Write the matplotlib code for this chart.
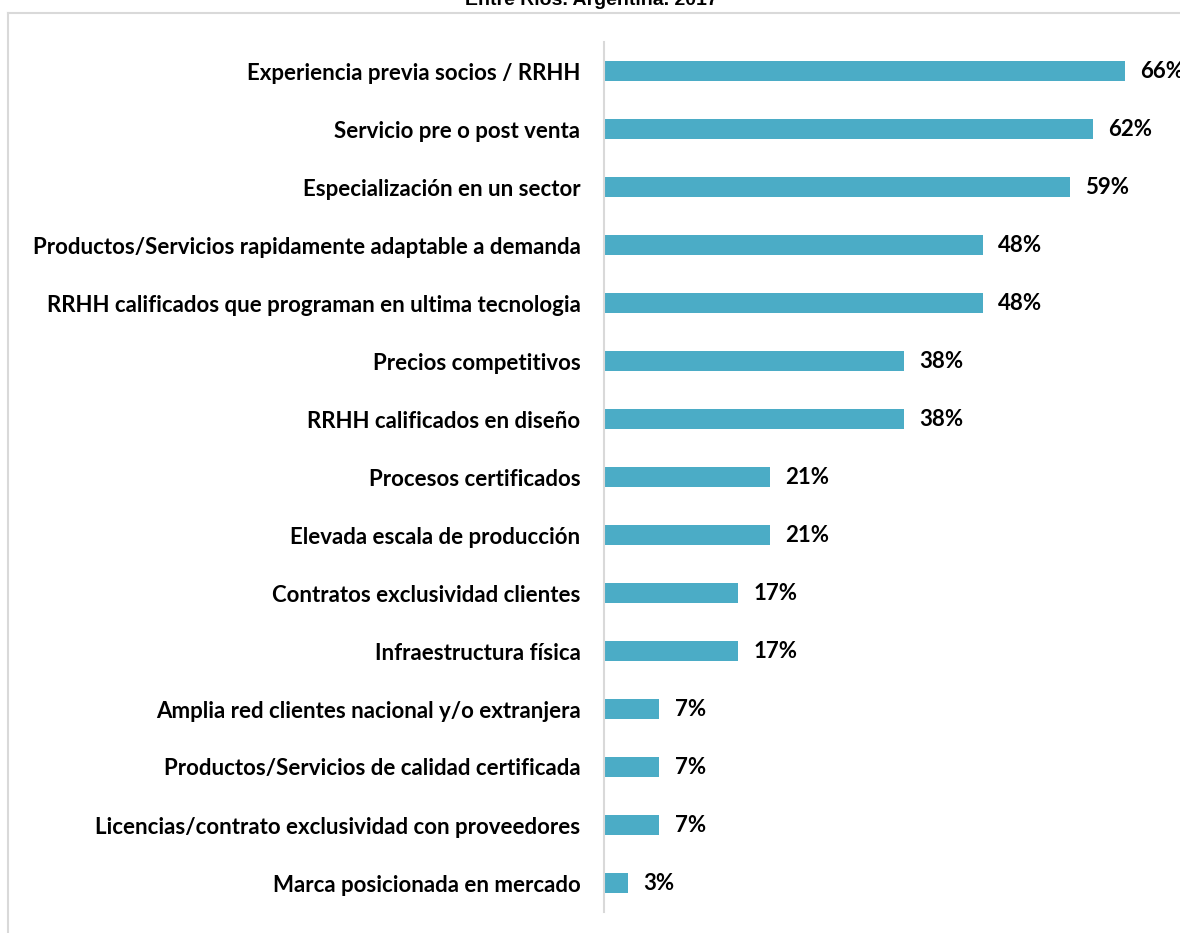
import matplotlib.pyplot as plt
from matplotlib.lines import Line2D

TITLE = "Entre Ríos. Argentina. 2017"

categories = [
    "Experiencia previa socios / RRHH",
    "Servicio pre o post venta",
    "Especialización en un sector",
    "Productos/Servicios rapidamente adaptable a demanda",
    "RRHH calificados que programan en ultima tecnologia",
    "Precios competitivos",
    "RRHH calificados en diseño",
    "Procesos certificados",
    "Elevada escala de producción",
    "Contratos exclusividad clientes",
    "Infraestructura física",
    "Amplia red clientes nacional y/o extranjera",
    "Productos/Servicios de calidad certificada",
    "Licencias/contrato exclusividad con proveedores",
    "Marca posicionada en mercado",
]
values = [66, 62, 59, 48, 48, 38, 38, 21, 21, 17, 17, 7, 7, 7, 3]

BAR_COLOR = "#4bacc6"
FONT = "Lato"
FS = 16

W, H = 1180, 933
fig = plt.figure(figsize=(W / 100, H / 100), dpi=100)

# axes: left edge at the vertical line, spans 42..912 px vertically
ax = fig.add_axes([604 / W, 1 - 912 / H, (W - 604) / W, (912 - 42) / H])
ypos = list(range(len(categories)))
ax.barh(ypos, values, height=0.35, color=BAR_COLOR)
ax.set_ylim(len(categories) - 0.5, -0.5)
ax.set_xlim(0, (W - 604) / 7.89)

for y, v in zip(ypos, values):
    ax.annotate(f"{v}%", (v, y), xytext=(11, 0), textcoords="offset points",
                va="center", ha="left", fontsize=FS, fontweight="bold",
                family=FONT, annotation_clip=False)

ax.set_yticks(ypos)
ax.set_yticklabels(categories, fontsize=FS, fontweight="bold", family=FONT)
ax.tick_params(axis="y", length=0, pad=17)
ax.set_xticks([])
for s in ["top", "right", "bottom"]:
    ax.spines[s].set_visible(False)
ax.spines["left"].set_color("#d9d9d9")
ax.spines["left"].set_linewidth(1.5)

# outer frame (top and left only visible)
fig.add_artist(Line2D([8 / W, 1], [1 - 13 / H, 1 - 13 / H], color="#d9d9d9", lw=1.5))
fig.add_artist(Line2D([8 / W, 8 / W], [0, 1 - 13 / H], color="#d9d9d9", lw=1.5))

# title, cut off at the top edge
fig.text(591 / W, 1 - 5 / H, TITLE, ha="center", va="baseline",
         fontsize=14, fontweight="bold", family="Liberation Sans")

fig.savefig("out.png", dpi=100)
